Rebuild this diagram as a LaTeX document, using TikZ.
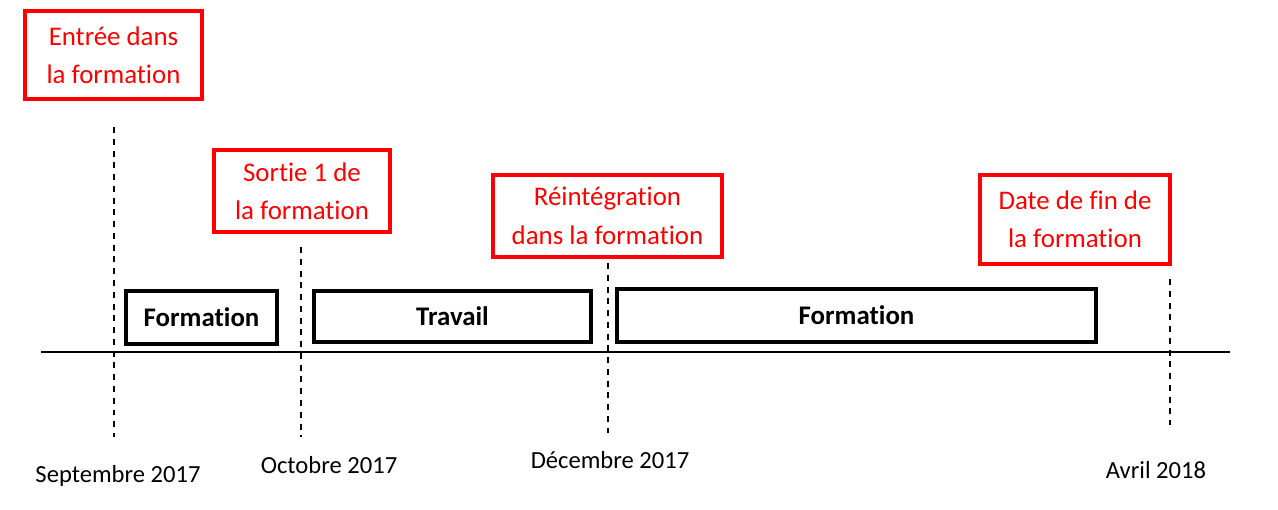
\documentclass[tikz,border=0pt]{standalone}
\usepackage{fontspec}
\setmainfont{Carlito}[RawFeature={-liga;-dlig}]
\usetikzlibrary{calc}
\definecolor{jalon}{RGB}{255,0,0}
\newcommand*{\AxisY}{352}
\newcommand*{\DateMarks}[1]{% #1 = list of name/x/top/bottom
  \foreach \name/\x/\ya/\yb in {#1} {
    \coordinate (\name-top) at (\x,\ya);
    \coordinate (\name-bot) at (\x,\yb);
    \draw [marker] (\name-top) -- (\name-bot);
    }%
}
\tikzset{
  jalonbox/.style={draw=jalon, text=jalon, line width=2.3pt, inner sep=0pt,
    align=center, font=\fontsize{15.3}{21.8}\selectfont},
  periode/.style={draw=black, line width=2.3pt, inner sep=0pt,
    font=\fontsize{15.3}{18}\selectfont\bfseries},
  datelabel/.style={anchor=base, inner sep=0pt, font=\fontsize{14}{16}\selectfont},
  marker/.style={line width=1.1pt, dash pattern=on 3.4pt off 3.3pt}
}

\begin{document}
\begin{tikzpicture}[x=0.02cm, y=-0.02cm]
    \useasboundingbox (0,0) rectangle (1278,510);

    % axe du temps
    \coordinate (axe-g) at (41,\AxisY);
    \coordinate (axe-d) at (1230,\AxisY);
    \draw [line width=0.7pt] (axe-g) -- (axe-d);

    % reperes
    \DateMarks{sept/114/127/437, oct/301/247/437,
      dec/608/263/433, avr/1170/279/425}

    % periodes
    \node [periode, minimum width=3.02cm, minimum height=1.06cm] (form1) at (201.5,317.5) {Formation};
    \node [periode, minimum width=5.54cm, minimum height=1.02cm] (travail) at (452.5,316.5) {Travail};
    \node [periode, minimum width=9.58cm, minimum height=1.06cm] (form2) at (856.5,315.5) {Formation};

    % evenements
    \node [jalonbox, minimum width=3.54cm, minimum height=1.76cm] (entree) at (113.5,55) {Entrée dans\\la formation};
    \node [jalonbox, minimum width=3.52cm, minimum height=1.64cm] (sortie) at (302,191) {Sortie 1 de\\la formation};
    \node [jalonbox, minimum width=4.58cm, minimum height=1.64cm] (reint) at (607.5,216) {Réintégration\\dans la formation};
    \node [jalonbox, minimum width=3.80cm, minimum height=1.78cm] (fin) at (1075,219.5) {Date de fin de\\la formation};

    % dates
    \node [datelabel] (d-sept) at (118,482) {Septembre 2017};
    \node [datelabel] (d-oct) at (329,473) {Octobre 2017};
    \node [datelabel] (d-dec) at (610,468) {Décembre 2017};
    \node [datelabel] (d-avr) at (1156,478) {Avril 2018};

\end{tikzpicture}
\end{document}
